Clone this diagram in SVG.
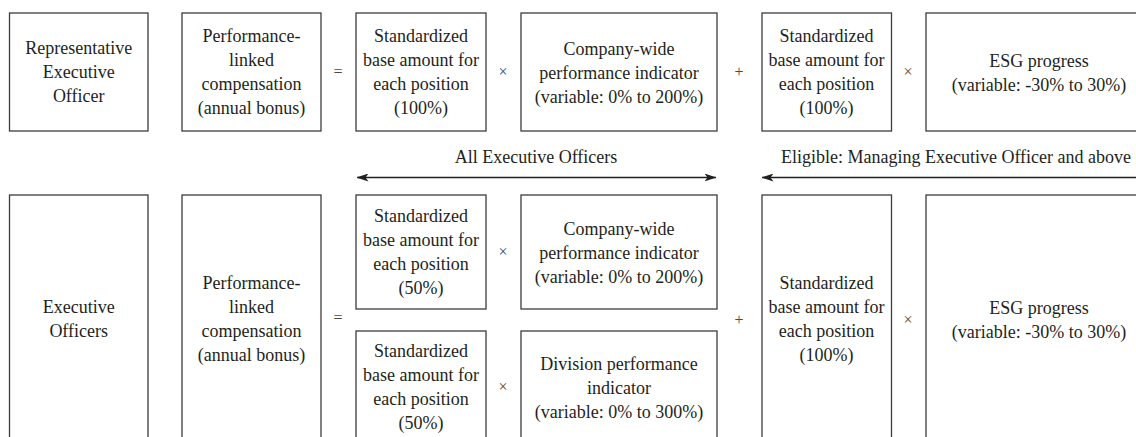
<svg xmlns="http://www.w3.org/2000/svg" width="1136" height="437" viewBox="0 0 1136 437" font-family="'Liberation Serif', 'Times New Roman', 'DejaVu Serif', serif">
<defs>
<style>
.box{fill:#fff;stroke:#3c3c3c;stroke-width:1.3}
text{font-family:'Liberation Serif','Times New Roman','DejaVu Serif',serif;font-size:18px;fill:#231f20;text-anchor:middle}
text.op{font-size:16px;fill:#4a4a4a}
.conn{stroke:#231f20;stroke-width:1.4;fill:none}
</style>
<marker id="ah" viewBox="0 0 12 8" refX="11.5" refY="4" markerWidth="12" markerHeight="8" markerUnits="userSpaceOnUse" orient="auto-start-reverse">
<path d="M0,0 L12,4 L0,8 L3,4 Z" fill="#231f20"/>
</marker>
</defs>
<rect width="1136" height="437" fill="#fff"/>

<g id="rep-officer"><rect class="box" x="9.5" y="13" width="138.5" height="118"/>
<text x="78.7" y="54">Representative</text><text x="78.7" y="78">Executive</text><text x="78.7" y="102">Officer</text></g>
<g id="rep-bonus"><rect class="box" x="182" y="13" width="139" height="118"/>
<text x="251.5" y="42">Performance-</text><text x="251.5" y="66">linked</text><text x="251.5" y="90">compensation</text><text x="251.5" y="114">(annual bonus)</text></g>
<text class="op" x="338" y="77">=</text>
<g id="rep-base"><rect class="box" x="356" y="13" width="130" height="118"/>
<text x="421" y="42">Standardized</text><text x="421" y="66">base amount for</text><text x="421" y="90">each position</text><text x="421" y="114">(100%)</text></g>
<text class="op" x="503" y="77">×</text>
<g id="rep-company"><rect class="box" x="521" y="13" width="196" height="118"/>
<text x="619" y="55">Company-wide</text><text x="619" y="79">performance indicator</text><text x="619" y="103">(variable: 0% to 200%)</text></g>
<text class="op" x="739" y="77">+</text>
<g id="rep-esgbase"><rect class="box" x="762" y="13" width="129.5" height="118"/>
<text x="826.5" y="42">Standardized</text><text x="826.5" y="66">base amount for</text><text x="826.5" y="90">each position</text><text x="826.5" y="114">(100%)</text></g>
<text class="op" x="908" y="77">×</text>
<g id="rep-esg"><rect class="box" x="926" y="13" width="226" height="118"/>
<text x="1039" y="67">ESG progress</text><text x="1039" y="91">(variable: -30% to 30%)</text></g>

<g id="connectors">
<line class="conn" x1="357" y1="177.5" x2="716" y2="177.5" marker-start="url(#ah)" marker-end="url(#ah)"/>
<line class="conn" x1="762" y1="177.5" x2="1140" y2="177.5" marker-start="url(#ah)"/>
</g>
<text x="536" y="163">All Executive Officers</text>
<text x="956" y="163">Eligible: Managing Executive Officer and above</text>

<g id="exec-officers"><rect class="box" x="9.5" y="195" width="138.5" height="248"/>
<text x="78.7" y="313">Executive</text><text x="78.7" y="337">Officers</text></g>
<g id="exec-bonus"><rect class="box" x="182" y="195" width="139" height="248"/>
<text x="251.5" y="289">Performance-</text><text x="251.5" y="313">linked</text><text x="251.5" y="337">compensation</text><text x="251.5" y="361">(annual bonus)</text></g>
<text class="op" x="338" y="323">=</text>
<g id="exec-base1"><rect class="box" x="356" y="195" width="130" height="114"/>
<text x="421" y="222">Standardized</text><text x="421" y="246">base amount for</text><text x="421" y="270">each position</text><text x="421" y="294">(50%)</text></g>
<text class="op" x="503" y="257">×</text>
<g id="exec-company"><rect class="box" x="521" y="195" width="196" height="114"/>
<text x="619" y="235">Company-wide</text><text x="619" y="259">performance indicator</text><text x="619" y="283">(variable: 0% to 200%)</text></g>
<g id="exec-base2"><rect class="box" x="356" y="331" width="130" height="114"/>
<text x="421" y="357">Standardized</text><text x="421" y="381">base amount for</text><text x="421" y="405">each position</text><text x="421" y="429">(50%)</text></g>
<text class="op" x="503" y="392">×</text>
<g id="exec-division"><rect class="box" x="521" y="331" width="196" height="114"/>
<text x="619" y="370">Division performance</text><text x="619" y="394">indicator</text><text x="619" y="418">(variable: 0% to 300%)</text></g>
<text class="op" x="739" y="325">+</text>
<g id="exec-esgbase"><rect class="box" x="762" y="195" width="129.5" height="248"/>
<text x="826.5" y="289">Standardized</text><text x="826.5" y="313">base amount for</text><text x="826.5" y="337">each position</text><text x="826.5" y="361">(100%)</text></g>
<text class="op" x="908" y="325">×</text>
<g id="exec-esg"><rect class="box" x="926" y="195" width="226" height="248"/>
<text x="1039" y="314">ESG progress</text><text x="1039" y="338">(variable: -30% to 30%)</text></g>
</svg>
